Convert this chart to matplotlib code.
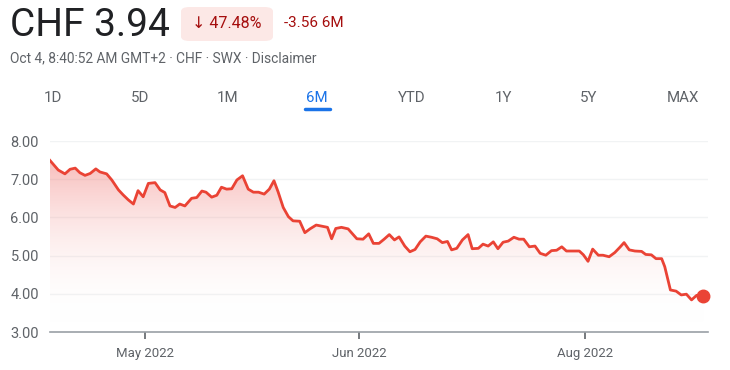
import numpy as np
import matplotlib.pyplot as plt
from matplotlib.patches import FancyBboxPatch
from matplotlib.colors import LinearSegmentedColormap

# trading-day index and closing price
day = [0.0, 1.6, 2.9, 3.9, 4.9, 5.8, 6.8, 7.8, 8.9, 9.7, 11.0, 12.0, 13.3, 14.2,
       15.2, 16.2, 17.1, 18.1, 19.1, 20.4, 21.4, 22.3, 23.3, 24.3, 25.2, 26.2,
       27.5, 28.5, 29.5, 30.3, 31.4, 32.4, 33.3, 34.3, 35.3, 36.3, 37.4, 38.5,
       39.5, 40.5, 41.6, 42.6, 43.5, 44.3, 45.3, 46.3, 47.2, 48.5, 49.5, 50.5,
       51.7, 52.8, 53.9, 54.7, 55.5, 56.6, 57.9, 59.6, 60.8, 61.9, 62.8, 63.9,
       64.9, 65.9, 66.9, 67.8, 68.9, 69.9, 70.9, 71.9, 73.0, 74.1, 75.2, 76.2,
       77.2, 78.0, 79.0, 80.1, 81.2, 82.0, 83.2, 84.1, 85.1, 86.1, 87.0, 88.0,
       89.0, 90.1, 91.1, 92.0, 93.1, 94.2, 95.2, 96.3, 97.4, 98.4, 99.4, 100.3,
       101.6, 102.8, 103.6, 104.5, 105.4, 106.5, 107.4, 108.6, 109.7, 110.7,
       111.5, 112.5, 113.6, 114.9, 115.7, 116.8, 117.7, 118.8, 119.4, 120.5,
       121.6, 122.6, 123.6, 124.6, 125.6, 126.9]
price = [7.49, 7.24, 7.14, 7.26, 7.29, 7.17, 7.10, 7.15, 7.27, 7.19, 7.14, 6.98,
         6.72, 6.59, 6.46, 6.35, 6.70, 6.54, 6.89, 6.91, 6.72, 6.65, 6.30, 6.26,
         6.35, 6.30, 6.50, 6.52, 6.69, 6.66, 6.53, 6.58, 6.79, 6.74, 6.75, 6.98,
         7.09, 6.74, 6.66, 6.66, 6.61, 6.74, 6.96, 6.67, 6.26, 6.02, 5.91, 5.90,
         5.60, 5.70, 5.80, 5.77, 5.74, 5.44, 5.71, 5.74, 5.70, 5.44, 5.43, 5.57,
         5.32, 5.32, 5.43, 5.55, 5.41, 5.49, 5.25, 5.10, 5.16, 5.36, 5.51, 5.48,
         5.44, 5.34, 5.37, 5.15, 5.19, 5.41, 5.55, 5.18, 5.19, 5.30, 5.25, 5.36,
         5.18, 5.35, 5.38, 5.48, 5.43, 5.43, 5.23, 5.25, 5.06, 5.01, 5.13, 5.14,
         5.23, 5.12, 5.12, 5.12, 5.02, 4.85, 5.17, 5.01, 5.01, 4.97, 5.08, 5.22,
         5.34, 5.15, 5.12, 5.11, 5.03, 5.02, 4.92, 4.92, 4.71, 4.10, 4.07, 3.97,
         3.99, 3.84, 3.96, 3.94]

yticks = [3, 4, 5, 6, 7, 8]
ytick_labels = ["3.00", "4.00", "5.00", "6.00", "7.00", "8.00"]
xtick_days = [18.4, 60.0, 103.9]
xtick_labels = ["May 2022", "Jun 2022", "Aug 2022"]
tabs = ["1D", "5D", "1M", "6M", "YTD", "1Y", "5Y", "MAX"]

RED = "#ea4335"
GREY = "#5f6368"
plt.rcParams['font.family'] = ['Roboto', 'DejaVu Sans']

fig = plt.figure(figsize=(7.3, 3.7), dpi=100)
ax = fig.add_axes([50 / 730, 1 - 332 / 370, 658 / 730, 191 / 370])
ax.set_xlim(0, 127.8)
ax.set_ylim(3, 8)

# gradient under the line
grad = LinearSegmentedColormap.from_list("g", [(1, 1, 1, 0), (0.93, 0.35, 0.33, 0.42)])
img = ax.imshow(np.linspace(0, 1, 256).reshape(-1, 1), cmap=grad, aspect="auto",
                extent=[0, 127.8, 3.2, 7.6], origin="lower", zorder=1)
poly = ax.fill_between(day, price, 3, color="none", lw=0)
img.set_clip_path(poly.get_paths()[0], transform=ax.transData)

for y in yticks[1:]:
    ax.axhline(y, color="#f1f3f4", lw=1, zorder=0)
ax.plot(day, price, color=RED, lw=2, zorder=3, solid_joinstyle="round")
ax.plot(day[-1], price[-1], "o", color=RED, ms=9, zorder=4, clip_on=False)

for s in ["top", "right", "left"]:
    ax.spines[s].set_visible(False)
ax.spines["bottom"].set_color("#9aa0a6")
ax.spines["bottom"].set_linewidth(1.2)
ax.set_yticks(yticks)
ax.set_yticklabels(ytick_labels)
ax.set_xticks(xtick_days)
ax.set_xticklabels(xtick_labels)
ax.tick_params(axis="y", length=0, pad=8, labelsize=10.5, labelcolor=GREY)
ax.tick_params(axis="x", length=5, width=1.2, color="#5f6368", pad=6,
               labelsize=9.5, labelcolor=GREY)

# header
fig.text(10 / 730, 1 - 25 / 370, "CHF 3.94", fontsize=28, color="#202124", va="center")
fig.patches.append(FancyBboxPatch((181 / 730, 1 - 41 / 370), 92 / 730, 34 / 370,
                                  boxstyle="round,pad=0,rounding_size=0.012",
                                  transform=fig.transFigure, fc="#fce8e6", ec="none"))
fig.text(227 / 730, 1 - 23 / 370, "↓ 47.48%", fontsize=11.5, color="#a50e0e",
         ha="center", va="center")
fig.text(284 / 730, 1 - 23 / 370, "-3.56 6M", fontsize=11, color="#a50e0e", va="center")
fig.text(10 / 730, 1 - 58 / 370, "Oct 4, 8:40:52 AM GMT+2 · CHF · SWX · Disclaimer",
         fontsize=9.9, color=GREY, va="center")

tab_x = [53, 140, 228, 317, 412, 503, 589, 683]
for t, x in zip(tabs, tab_x):
    c = "#1a73e8" if t == "6M" else GREY
    fig.text(x / 730, 1 - 98 / 370, t, fontsize=10.8, color=c, ha="center", va="center")
fig.add_artist(plt.Line2D([305 / 730, 330 / 730], [1 - 109 / 370] * 2, color="#1a73e8",
                          lw=2.5, solid_capstyle="round"))

fig.savefig("out.png", dpi=100)
